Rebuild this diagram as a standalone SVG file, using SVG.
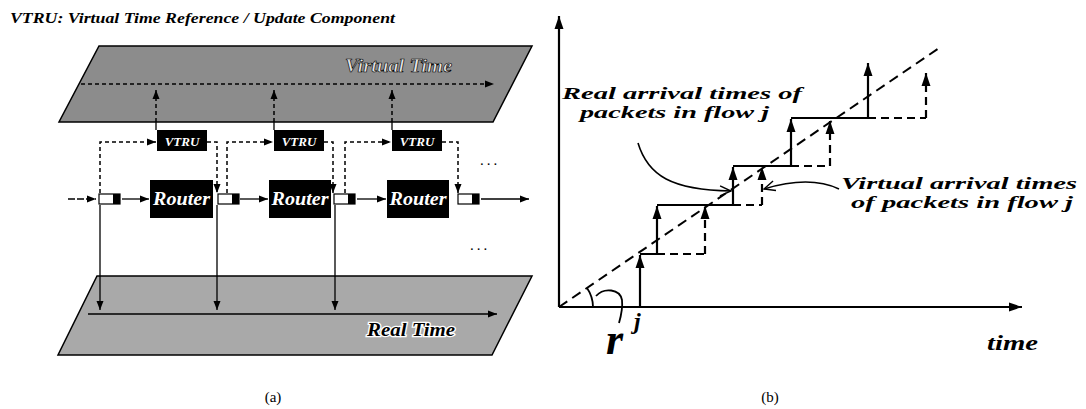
<svg xmlns="http://www.w3.org/2000/svg" width="1086" height="409" viewBox="0 0 1086 409">
<style>
text{font-family:"Liberation Serif","Times New Roman",serif;font-weight:bold;font-style:italic}
.cap{font-style:normal;font-weight:normal;font-size:15px}
.plane{stroke:#000;stroke-width:1.5}
.wt{fill:#fff}
.s{stroke:#000;stroke-width:1.3;fill:none}
.d{stroke:#000;stroke-width:1.5;fill:none;stroke-dasharray:4 3}
.rs{stroke:#000;stroke-width:2.2;fill:none}
.rd{stroke:#000;stroke-width:2.2;fill:none;stroke-dasharray:8 5}
.lbl{font-size:17px}
</style>
<defs>
<marker id="a" markerUnits="userSpaceOnUse" markerWidth="10" markerHeight="8" refX="9" refY="4" orient="auto"><path d="M0,0.5 L9,4 L0,7.5 Z" fill="#000"/></marker>
<marker id="b" markerUnits="userSpaceOnUse" markerWidth="14" markerHeight="10" refX="13" refY="5" orient="auto"><path d="M0,0.5 L13,5 L0,9.5 Z" fill="#000"/></marker>
<marker id="o" markerUnits="userSpaceOnUse" markerWidth="14" markerHeight="12" refX="12" refY="6" orient="auto"><path d="M1,1 L12,6 L1,11" fill="none" stroke="#000" stroke-width="1.4"/></marker>
</defs>
<rect width="1086" height="409" fill="#fff"/>
<g id="title"><text x="10" y="23" font-size="15" textLength="385" lengthAdjust="spacingAndGlyphs">VTRU: Virtual Time Reference / Update Component</text></g>

<g id="virtual-time-plane">
<polygon class="plane" points="99,46 532,46 493,122 59,122" fill="#8c8c8c"/>
<text x="345" y="72" font-size="18" textLength="107" lengthAdjust="spacingAndGlyphs" fill="#e6e6e6" stroke="#000" stroke-width="0.6">Virtual Time</text>
</g>
<g id="real-time-plane">
<polygon class="plane" points="97,276 532,276 492,355 58,355" fill="#a9a9a9"/>
<text x="367" y="336" font-size="18" textLength="88" lengthAdjust="spacingAndGlyphs" fill="#000" stroke="#fff" stroke-width="2.5" paint-order="stroke">Real Time</text>
</g>

<g id="vtru1"><rect x="157" y="130" width="50" height="21" fill="#000"/><text x="182" y="146" font-size="13" text-anchor="middle" class="wt">VTRU</text></g>
<g id="vtru2"><rect x="274" y="130" width="50" height="21" fill="#000"/><text x="299" y="146" font-size="13" text-anchor="middle" class="wt">VTRU</text></g>
<g id="vtru3"><rect x="392" y="130" width="50" height="21" fill="#000"/><text x="417" y="146" font-size="13" text-anchor="middle" class="wt">VTRU</text></g>

<g id="router1"><rect x="150" y="180" width="63" height="38" fill="#000"/><text x="181.5" y="205" font-size="19" text-anchor="middle" textLength="57" lengthAdjust="spacingAndGlyphs" class="wt">Router</text></g>
<g id="router2"><rect x="269" y="180" width="62" height="38" fill="#000"/><text x="300" y="205" font-size="19" text-anchor="middle" textLength="57" lengthAdjust="spacingAndGlyphs" class="wt">Router</text></g>
<g id="router3"><rect x="387" y="180" width="62" height="38" fill="#000"/><text x="418" y="205" font-size="19" text-anchor="middle" textLength="57" lengthAdjust="spacingAndGlyphs" class="wt">Router</text></g>

<g id="buffer1"><rect x="99" y="194" width="21" height="10" fill="#fff" stroke="#000" stroke-width="1.2"/><rect x="113" y="194" width="7" height="10" fill="#000"/></g>
<g id="buffer2"><rect x="218" y="194" width="21" height="10" fill="#fff" stroke="#000" stroke-width="1.2"/><rect x="232" y="194" width="7" height="10" fill="#000"/></g>
<g id="buffer3"><rect x="334" y="194" width="21" height="10" fill="#fff" stroke="#000" stroke-width="1.2"/><rect x="348" y="194" width="7" height="10" fill="#000"/></g>
<g id="buffer4"><rect x="458" y="194" width="21" height="10" fill="#fff" stroke="#000" stroke-width="1.2"/><rect x="472" y="194" width="7" height="10" fill="#000"/></g>

<g id="connectors">
<path class="d" d="M81,84 H494" stroke-dasharray="8 4" marker-end="url(#a)"/>
<path class="s" d="M156,122 V130 M274,122 V130 M392,122 V130"/>
<path class="d" d="M156,122 V90" marker-end="url(#a)"/>
<path class="d" d="M274,122 V90" marker-end="url(#a)"/>
<path class="d" d="M392,122 V90" marker-end="url(#a)"/>
<path class="s" d="M68,199 H96" stroke-dasharray="7 2" marker-end="url(#a)"/>
<path class="s" d="M122,199 H149" marker-end="url(#a)"/>
<path class="s" d="M240,199 H268" marker-end="url(#a)"/>
<path class="s" d="M357,199 H386" marker-end="url(#a)"/>
<path class="s" d="M481,199 H529" marker-end="url(#a)"/>
<path class="d" d="M100,193 V142 H156" marker-end="url(#a)"/>
<path class="d" d="M207,142 H217 V193" marker-end="url(#a)"/>
<path class="d" d="M227,193 V142 H273" marker-end="url(#a)"/>
<path class="d" d="M324,142 H333 V193" marker-end="url(#a)"/>
<path class="d" d="M345,193 V142 H391" marker-end="url(#a)"/>
<path class="d" d="M442,142 H458 V193" marker-end="url(#a)"/>
<path class="s" d="M100,205 V310" marker-end="url(#a)"/>
<path class="s" d="M217,205 V310" marker-end="url(#a)"/>
<path class="s" d="M335,205 V310" marker-end="url(#a)"/>
<path class="s" d="M88,314 H497" stroke-width="1.5" marker-end="url(#a)"/>
</g>
<g id="ellipses">
<text x="480" y="165" class="cap" letter-spacing="3">...</text>
<text x="470" y="250" class="cap" letter-spacing="3">...</text>
</g>
<text class="cap" x="273" y="402" text-anchor="middle">(a)</text>

<g id="chart">
<path class="rs" d="M559,307 V16" marker-end="url(#b)"/>
<path class="rs" d="M559,307 H1022" marker-end="url(#b)"/>
<path d="M559,307 L942,46" stroke="#000" stroke-width="2" stroke-dasharray="10 6" fill="none"/>
<path class="rs" d="M640,307 V255" marker-end="url(#b)"/>
<path class="rs" d="M657,254 V206" marker-end="url(#b)"/>
<path class="rs" d="M733,205 V167" marker-end="url(#b)"/>
<path class="rs" d="M791,166 V119" marker-end="url(#b)"/>
<path class="rs" d="M868,118 V63" marker-end="url(#b)"/>
<path class="rs" d="M640,254 H657 M657,205 H733 M733,166 H791 M791,118 H868"/>
<path class="rd" d="M657,254 H705 M733,205 H762 M791,166 H830 M868,118 H926"/>
<path class="rd" d="M705,254 V206" marker-end="url(#b)"/>
<path class="rd" d="M762,205 V167" marker-end="url(#b)"/>
<path class="rd" d="M830,166 V121" marker-end="url(#b)"/>
<path class="rd" d="M926,118 V73" marker-end="url(#b)"/>
<path d="M638,143 C648,176 672,190 731,191" fill="none" stroke="#000" stroke-width="1.6" marker-end="url(#o)"/>
<path d="M839,189 C822,181 800,178 764,189" fill="none" stroke="#000" stroke-width="1.6" marker-end="url(#o)"/>
<path d="M593,307 A34,34 0 0 0 587,288" fill="none" stroke="#000" stroke-width="1.8"/>
<path d="M596,296 C604,287 620,289 622,300 C623,309 621,316 619,323" fill="none" stroke="#000" stroke-width="1.8"/>
<text class="lbl" x="562" y="99" textLength="240" lengthAdjust="spacingAndGlyphs">Real arrival times of</text>
<text class="lbl" x="580" y="118" textLength="189" lengthAdjust="spacingAndGlyphs">packets in flow j</text>
<text class="lbl" x="841" y="189" textLength="236" lengthAdjust="spacingAndGlyphs">Virtual arrival times</text>
<text class="lbl" x="851" y="208" textLength="222" lengthAdjust="spacingAndGlyphs">of packets in flow j</text>
<text x="987" y="350" font-size="22" textLength="51" lengthAdjust="spacingAndGlyphs">time</text>
<text x="606" y="354" font-size="44">r</text>
<text x="634" y="329" font-size="24">j</text>
</g>
<text class="cap" x="770" y="402" text-anchor="middle">(b)</text>
</svg>
